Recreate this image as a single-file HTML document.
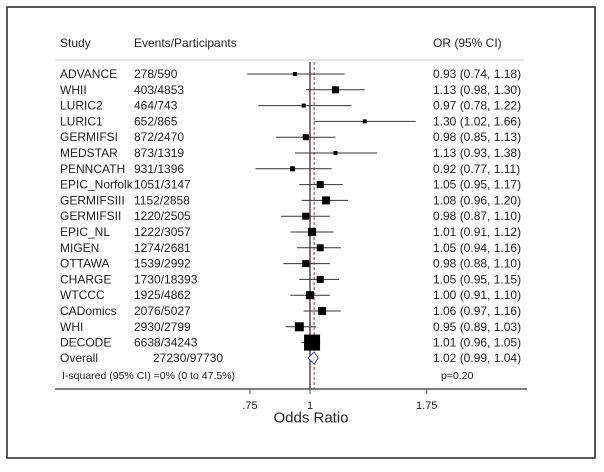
<!DOCTYPE html>
<html><head><meta charset="utf-8"><style>
body{margin:0;background:#fff;}
svg text{font-family:"Liberation Sans",Arial,sans-serif;fill:#222;}
</style></head><body>
<svg width="604" height="467" viewBox="0 0 604 467" xmlns="http://www.w3.org/2000/svg">
<rect x="7" y="7" width="588" height="451" fill="#fff" stroke="#222" stroke-width="1.5"/>
<g id="g"></g>
</svg>
<script>
const studies=["ADVANCE","WHII","LURIC2","LURIC1","GERMIFSI","MEDSTAR","PENNCATH","EPIC_Norfolk","GERMIFSIII","GERMIFSII","EPIC_NL","MIGEN","OTTAWA","CHARGE","WTCCC","CADomics","WHI","DECODE"];
const events=["278/590","403/4853","464/743","652/865","872/2470","873/1319","931/1396","1051/3147","1152/2858","1220/2505","1222/3057","1274/2681","1539/2992","1730/18393","1925/4862","2076/5027","2930/2799","6638/34243"];
const ors=[0.93,1.13,0.97,1.30,0.98,1.13,0.92,1.05,1.08,0.98,1.01,1.05,0.98,1.05,1.00,1.06,0.95,1.01];
const lows=[0.74,0.98,0.78,1.02,0.85,0.93,0.77,0.95,0.96,0.87,0.91,0.94,0.88,0.95,0.91,0.97,0.89,0.96];
const highs=[1.18,1.30,1.22,1.66,1.13,1.38,1.11,1.17,1.20,1.10,1.12,1.16,1.10,1.15,1.10,1.16,1.03,1.05];
const weights=[4,7,4,4,6,4,5,7,8,7,8,7,7,7,8,8,9,16];
const overall=[1.02,0.99,1.04];
const ticks=[0.75,1,1.75];
const tickLabels=[".75","1","1.75"];
const NS="http://www.w3.org/2000/svg";
const g=document.getElementById('g');
function X(v){return 310+Math.log(v)*208.6;}
function Y(i){return 74+i*15.8;}
function mk(t,a){const e=document.createElementNS(NS,t);for(const k in a)e.setAttribute(k,a[k]);g.appendChild(e);return e;}
function txt(x,y,s,size,anchor){const e=mk('text',{x:x,y:y,'font-size':size||12,'text-anchor':anchor||'start','dominant-baseline':'central'});e.textContent=s;return e;}
function fmt(v){return v.toFixed(2);}
let e;
e=txt(60,43,"Study");

e=txt(134,43,"Events/Participants");

e=txt(433,43,"OR (95% CI)");

e=mk('line',{x1:55,y1:60,x2:524,y2:60,stroke:'#ccc','stroke-width':1});

const yTop=62,yBot=389;
e=mk('line',{x1:X(1),y1:yTop,x2:X(1),y2:yBot,stroke:'#222','stroke-width':1.2});

e=mk('line',{x1:X(overall[0]),y1:yTop,x2:X(overall[0]),y2:yBot,stroke:'#b03060','stroke-width':1,'stroke-dasharray':'3,2'});

studies.forEach((s,i)=>{
  const y=Y(i);
  let t=txt(60,y,s);
  
  t=txt(134,y,events[i]);
  
  t=txt(433,y,fmt(ors[i])+" ("+fmt(lows[i])+", "+fmt(highs[i])+")");
  
  const l=mk('line',{x1:X(lows[i]),y1:y,x2:X(highs[i]),y2:y,stroke:'#333','stroke-width':1});
  
  const w=weights[i];
  const r=mk('rect',{x:X(ors[i])-w/2,y:y-w/2,width:w,height:w,fill:'#000'});
  
});
const oy=358;
e=txt(60,oy,"Overall");

e=txt(153,oy,"27230/97730");

e=txt(433,oy,fmt(overall[0])+" ("+fmt(overall[1])+", "+fmt(overall[2])+")");

e=mk('polygon',{points:[X(overall[1])+","+oy,X(overall[0])+","+(oy-6),X(overall[2])+","+oy,X(overall[0])+","+(oy+6)].join(' '),fill:'#fff',stroke:'#4040a0','stroke-width':1});

e=txt(62,376,"I-squared (95% CI) =0% (0 to 47.5%)",10.5);

e=txt(441,376,"p=0.20",10.5);

e=mk('line',{x1:55,y1:389,x2:527,y2:389,stroke:'#555','stroke-width':1.5});

ticks.forEach((v,i)=>{
  const t=mk('line',{x1:X(v),y1:389,x2:X(v),y2:394,stroke:'#555','stroke-width':1});
  
  const l=txt(X(v),406,tickLabels[i],11,'middle');
  
});
e=txt(311,418,"Odds Ratio",15,'middle');

</script>
</body></html>
